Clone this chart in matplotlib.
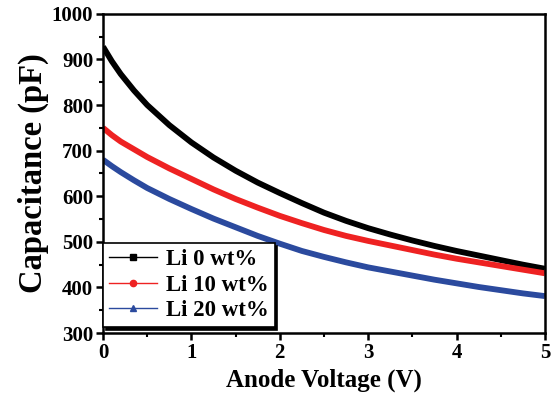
import matplotlib
matplotlib.use("Agg")
import matplotlib.pyplot as plt
from matplotlib.lines import Line2D
from matplotlib.ticker import MultipleLocator

voltage = [0, 0.1, 0.2, 0.35, 0.5, 0.75, 1, 1.25, 1.5, 1.75, 2, 2.25, 2.5,
           2.75, 3, 3.25, 3.5, 3.75, 4, 4.25, 4.5, 4.75, 5]
cap_li0 = [928, 896, 868, 832, 800, 756, 718, 685, 656, 630, 607, 585, 564,
           546, 530, 516, 503, 491, 480, 470, 460, 450, 441]
cap_li10 = [750, 734, 720, 703, 686, 661, 638, 615, 594, 575, 557, 541, 526,
            513, 502, 492, 482, 472, 463, 455, 447, 439, 431]
cap_li20 = [680, 666, 653, 635, 618, 594, 572, 551, 532, 513, 496, 480, 467,
            455, 444, 435, 426, 417, 409, 401, 394, 387, 381]
labels = ["Li 0 wt%", "Li 10 wt%", "Li 20 wt%"]
colors = ["#000000", "#ee2222", "#2b4a9e"]
markers = ["s", "o", "^"]

plt.rcParams['font.family'] = ['Liberation Serif', 'DejaVu Serif']
plt.rcParams['font.weight'] = 'bold'

fig = plt.figure(figsize=(5.51, 3.96), dpi=100)
ax = fig.add_axes([0.187, 0.159, 0.802, 0.806])

for y, c in zip([cap_li0, cap_li10, cap_li20], colors):
    ax.plot(voltage, y, color=c, lw=4.2, solid_capstyle='butt', solid_joinstyle='round')

ax.set_xlim(0, 5)
ax.set_ylim(300, 1000)
ax.xaxis.set_major_locator(MultipleLocator(1))
ax.xaxis.set_minor_locator(MultipleLocator(0.5))
ax.yaxis.set_major_locator(MultipleLocator(100))
ax.yaxis.set_minor_locator(MultipleLocator(50))
ax.tick_params(which='major', direction='out', length=5, width=1.8, labelsize=15, pad=2)
ax.tick_params(which='minor', direction='out', length=3, width=1.5)
for lab in ax.get_xticklabels() + ax.get_yticklabels():
    lab.set_fontweight('bold')
for s in ax.spines.values():
    s.set_linewidth(1.8)

ax.set_xlabel("Anode Voltage (V)", fontsize=18, fontweight='bold', labelpad=4)
ax.set_ylabel("Capacitance (pF)", fontsize=23.5, fontweight='bold', labelpad=2)

handles = [Line2D([], [], color=c, lw=1, marker=m, markersize=4.5) for c, m in zip(colors, markers)]
leg = ax.legend(handles, labels, loc='lower left', bbox_to_anchor=(0.0, 0.019),
                fancybox=False, frameon=True,
                prop={'size': 16.5, 'weight': 'bold'}, handlelength=2.1, handletextpad=0.4,
                borderaxespad=0.0, labelspacing=0.2, borderpad=0.25,
                shadow={'color': 'black', 'alpha': 1})
leg.get_frame().set_edgecolor('black')
leg.get_frame().set_linewidth(1.2)
leg.get_frame().set_alpha(1)

fig.savefig("out.png", dpi=100)
